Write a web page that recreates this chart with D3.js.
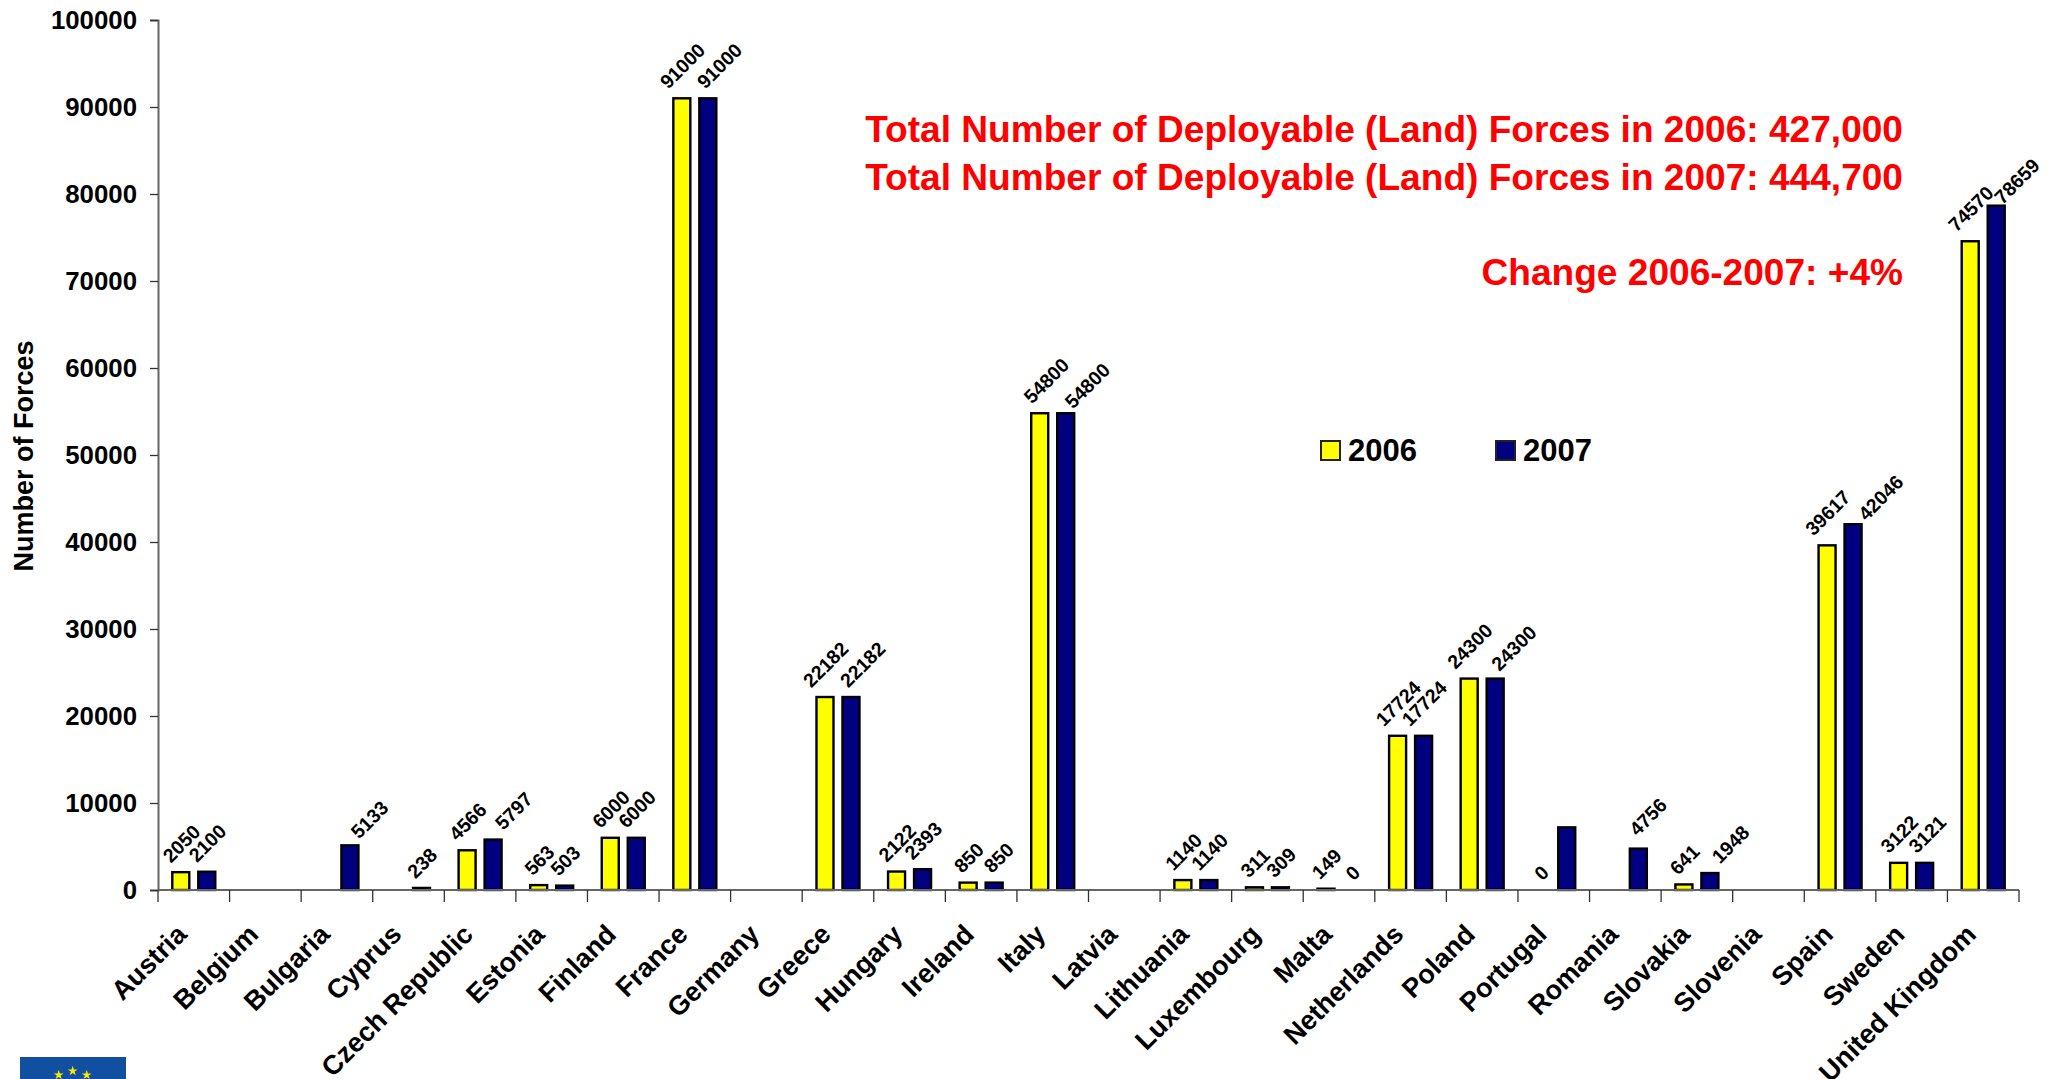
<!DOCTYPE html>
<html>
<head>
<meta charset="utf-8">
<script src="https://cdn.jsdelivr.net/npm/d3@7"></script>
<style>
  html, body { margin: 0; background: #fff; overflow: hidden; }
  text { font-family: "Liberation Sans", Arial, sans-serif; font-weight: bold; fill: #000; }
</style>
</head>
<body>
<div id="chart"></div>
<script>
// Chart data, null = no bar and no label
const countries = ['Austria', 'Belgium', 'Bulgaria', 'Cyprus', 'Czech Republic', 'Estonia', 'Finland', 'France',
  'Germany', 'Greece', 'Hungary', 'Ireland', 'Italy', 'Latvia', 'Lithuania', 'Luxembourg', 'Malta', 'Netherlands',
  'Poland', 'Portugal', 'Romania', 'Slovakia', 'Slovenia', 'Spain', 'Sweden', 'United Kingdom'];
const forces2006 = [2050, null, null, null, 4566, 563, 6000, 91000, null, 22182, 2122, 850, 54800, null, 1140, 311,
  149, 17724, 24300, 0, null, 641, null, 39617, 3122, 74570];
const forces2007 = [2100, null, 5133, 238, 5797, 503, 6000, 91000, null, 22182, 2393, 850, 54800, null, 1140, 309,
  0, 17724, 24300, 7200, 4756, 1948, null, 42046, 3121, 78659];
// Portugal 2007 has a bar but the original prints no number for it
const unlabelled2007 = ['Portugal'];
const yTicks = d3.range(0, 100001, 10000);
const years = ['2006', '2007'];
const colors = ['#ffff00', '#000080'];
const notes = [
  'Total Number of Deployable (Land) Forces in 2006: 427,000',
  'Total Number of Deployable (Land) Forces in 2007: 444,700',
  'Change 2006-2007: +4%'
];

const width = 2054;
const height = 1079;
const plot = { left: 158, right: 2019, top: 20, bottom: 890 };

// labels the original moved aside by hand so they clear their neighbour
const labelShift2006 = new Map([
  ['Italy', [6, 0]]
]);
const labelShift2007 = new Map([
  ['Bulgaria', [19, 3]],
  ['Czech Republic', [20, 0]],
  ['France', [11, 0]],
  ['Greece', [11, 0]],
  ['Ireland', [4, 0]],
  ['Italy', [21, 5]],
  ['Poland', [18, 2]],
  ['Romania', [9, -3]],
  ['Slovakia', [20, 0]],
  ['Spain', [27, 6]],
  ['Sweden', [2, 0]],
  ['United Kingdom', [20, 8]]
]);

const svg = d3.select('#chart').append('svg')
  .attr('width', width)
  .attr('height', height)
  .attr('viewBox', `0 0 ${width} ${height}`);

const xScale = d3.scaleBand().domain(countries).range([plot.left, plot.right]);
const barScale = d3.scaleBand().domain(years).range([0, xScale.bandwidth()]).paddingInner(0.346).paddingOuter(0.55);
const yScale = d3.scaleLinear().domain([0, 100000]).range([plot.bottom, plot.top]);

// y axis
const yAxis = svg.append('g')
  .attr('transform', `translate(${plot.left},0)`)
  .call(d3.axisLeft(yScale).tickValues(yTicks).tickFormat(d3.format('d')).tickSize(8).tickPadding(13));
yAxis.select('.domain').attr('stroke', '#666').attr('stroke-width', 2);
yAxis.selectAll('.tick line').attr('stroke', '#333').attr('stroke-width', 1.3);
yAxis.selectAll('text').attr('font-size', 25.8).style('font-family', '"Liberation Sans"').style('font-weight', 'bold');

svg.append('text')
  .attr('transform', 'translate(33,456) rotate(-90)')
  .attr('text-anchor', 'middle')
  .attr('font-size', 27)
  .text('Number of Forces');

// bars and their value labels
const rows = countries.map((c, i) => [
  { country: c, year: '2006', value: forces2006[i] },
  { country: c, year: '2007', value: forces2007[i] }
]).flat().filter(d => d.value !== null);

svg.append('g').selectAll('rect')
  .data(rows.filter(d => d.value > 0))
  .join('rect')
  .attr('x', d => xScale(d.country) + barScale(d.year))
  .attr('y', d => yScale(d.value))
  .attr('width', barScale.bandwidth())
  .attr('height', d => plot.bottom - yScale(d.value))
  .attr('fill', d => colors[years.indexOf(d.year)])
  .attr('stroke', '#000')
  .attr('stroke-width', 2.4);

// labels start a fixed height above the bar and are centred on it sideways
svg.append('g').selectAll('text')
  .data(rows.filter(d => !(d.year === '2007' && unlabelled2007.includes(d.country))))
  .join('text')
  .attr('font-size', 19.5)
  .attr('text-anchor', 'start')
  .text(d => d.value)
  .attr('transform', function (d) {
    const half = this.getComputedTextLength() / 2 * Math.SQRT1_2;
    const shifts = d.year === '2007' ? labelShift2007 : labelShift2006;
    const shift = shifts.get(d.country) || [0, 0];
    const x = xScale(d.country) + barScale(d.year) + barScale.bandwidth() / 2;
    return `translate(${x - half + 5.5 + shift[0]},${yScale(d.value) - 8.5 + shift[1]}) rotate(-45)`;
  });

// x axis
const xAxis = svg.append('g')
  .attr('transform', `translate(0,${plot.bottom})`);
xAxis.append('line')
  .attr('x1', plot.left).attr('x2', plot.right)
  .attr('stroke', '#666').attr('stroke-width', 2);
xAxis.selectAll('.tickmark')
  .data(countries.concat([null]))
  .join('line')
  .attr('class', 'tickmark')
  .attr('x1', d => d === null ? plot.right : xScale(d))
  .attr('x2', d => d === null ? plot.right : xScale(d))
  .attr('y2', 12)
  .attr('stroke', '#333').attr('stroke-width', 1.3);
xAxis.selectAll('.label')
  .data(countries)
  .join('text')
  .attr('class', 'label')
  .attr('text-anchor', 'end')
  .attr('font-size', 27)
  .attr('transform', d => `translate(${xScale(d) + xScale.bandwidth() / 2 - 5.5},${46}) rotate(-45)`)
  .text(d => d);

// red notes, right aligned
const noteY = [142, 190, 285];
svg.append('g').selectAll('text')
  .data(notes)
  .join('text')
  .attr('x', 1903)
  .attr('y', (d, i) => noteY[i])
  .attr('text-anchor', 'end')
  .attr('font-size', 37.1)
  .style('fill', '#ff0000')
  .text(d => d);

// legend
const legendX = [1321, 1496];
const legend = svg.append('g').selectAll('g')
  .data(years)
  .join('g')
  .attr('transform', (d, i) => `translate(${legendX[i]},441)`);
legend.append('rect')
  .attr('width', 19).attr('height', 19)
  .attr('fill', (d, i) => colors[i])
  .attr('stroke', '#222').attr('stroke-width', 2);
legend.append('text')
  .attr('x', 27).attr('y', 20)
  .attr('font-size', 31)
  .text(d => d);

// piece of the EU flag cut off by the bottom edge
svg.append('rect')
  .attr('x', 20).attr('y', 1057).attr('width', 106).attr('height', 22)
  .attr('fill', '#114fa0');
const star = d3.symbol().type(d3.symbolStar).size(30);
svg.append('g').selectAll('path')
  .data([58.7, 72.7, 86.7])
  .join('path')
  .attr('d', star)
  .attr('transform', (d, i) => `translate(${d},${i === 1 ? 1071 : 1075})`)
  .attr('fill', '#ffe800');
</script>
</body>
</html>
